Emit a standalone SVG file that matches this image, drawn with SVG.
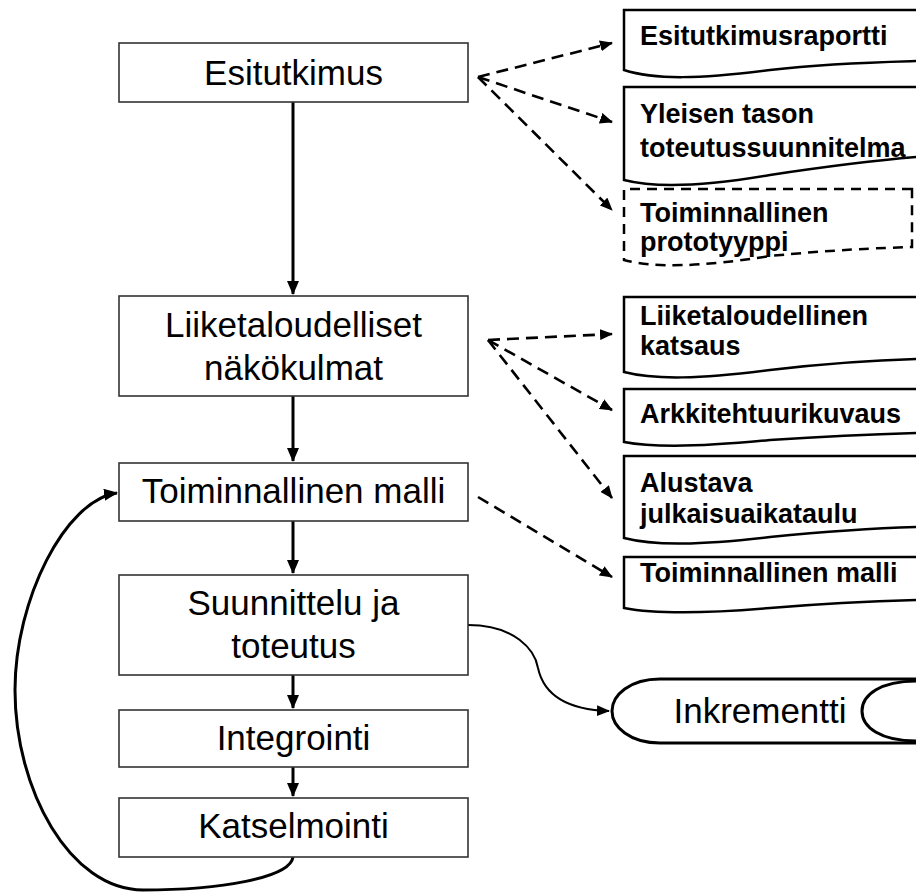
<svg xmlns="http://www.w3.org/2000/svg" width="916" height="892" viewBox="0 0 916 892">
<style>
.box{fill:#fff;stroke:#333;stroke-width:1.6}
.doc{fill:#fff;stroke:#000;stroke-width:2.5}
.ddoc{fill:#fff;stroke:#000;stroke-width:2.5;stroke-dasharray:10 7}
.lt{font-family:"Liberation Sans",Arial,sans-serif;font-size:35px;fill:#000;text-anchor:middle}
.rt{font-family:"Liberation Sans",Arial,sans-serif;font-size:27px;font-weight:bold;fill:#000}
.solid{fill:none;stroke:#000;stroke-width:3}
.dash{fill:none;stroke:#000;stroke-width:2.6;stroke-dasharray:12 7}
</style>
<defs>
<marker id="ah" markerUnits="userSpaceOnUse" markerWidth="14" markerHeight="12" refX="13" refY="6" orient="auto">
<path d="M0,0 L14,6 L0,12 z" fill="#000"/>
</marker>
<marker id="ahs" markerUnits="userSpaceOnUse" markerWidth="13" markerHeight="11" refX="12" refY="5.5" orient="auto">
<path d="M0,0 L13,5.5 L0,11 z" fill="#000"/>
</marker>
</defs>
<rect width="916" height="892" fill="#fff"/>
<g id="connectors">
<path class="solid" d="M293,102 V294" marker-end="url(#ah)"/>
<path class="solid" d="M293,396 V461" marker-end="url(#ah)"/>
<path class="solid" d="M293,521 V573" marker-end="url(#ah)"/>
<path class="solid" d="M293,675 V708" marker-end="url(#ah)"/>
<path class="solid" d="M293,767 V796" marker-end="url(#ah)"/>
<path class="solid" d="M293,857 C290,878 220,890 143,890 C70,890 15,790 15,690 C15,600 65,500 117,493" marker-end="url(#ah)"/>
<path fill="none" stroke="#000" stroke-width="2" d="M468,625 C515,625 535,650 538,668 C545,700 575,710 609,711" marker-end="url(#ahs)"/>
<path class="dash" d="M478,77 L612,43" marker-end="url(#ahs)"/>
<path class="dash" d="M478,77 L612,122" marker-end="url(#ahs)"/>
<path class="dash" d="M478,77 L612,210" marker-end="url(#ahs)"/>
<path class="dash" d="M488,340 L612,334" marker-end="url(#ahs)"/>
<path class="dash" d="M488,340 L612,410" marker-end="url(#ahs)"/>
<path class="dash" d="M488,340 L612,498" marker-end="url(#ahs)"/>
<path class="dash" d="M478,497 L612,577" marker-end="url(#ahs)"/>
</g>
<g id="n-esitutkimus"><rect class="box" x="119" y="43" width="349" height="59"/><text class="lt" x="293.5" y="85">Esitutkimus</text></g>
<g id="n-liiketaloudelliset"><rect class="box" x="119" y="296" width="349" height="100"/><text class="lt" x="293.5" y="337">Liiketaloudelliset</text><text class="lt" x="293.5" y="380">näkökulmat</text></g>
<g id="n-toiminnallinen"><rect class="box" x="119" y="463" width="349" height="58"/><text class="lt" x="293.5" y="503">Toiminnallinen malli</text></g>
<g id="n-suunnittelu"><rect class="box" x="119" y="575" width="349" height="100"/><text class="lt" x="293.5" y="615">Suunnittelu ja</text><text class="lt" x="293.5" y="658">toteutus</text></g>
<g id="n-integrointi"><rect class="box" x="119" y="710" width="349" height="57"/><text class="lt" x="293.5" y="750">Integrointi</text></g>
<g id="n-katselmointi"><rect class="box" x="119" y="798" width="349" height="59"/><text class="lt" x="293.5" y="838">Katselmointi</text></g>
<g id="d-esitutkimusraportti"><path class="doc" d="M917,10 H624 V70 C655,80 700,79 770,70 C830,63 880,62 917,61"/><text class="rt" x="640" y="45">Esitutkimusraportti</text></g>
<g id="d-yleisen"><path class="doc" d="M917,87 H624 V180 C655,188 700,187 770,175 C830,166 880,160 917,157"/><text class="rt" x="640" y="123">Yleisen tason</text><text class="rt" x="640" y="157">toteutussuunnitelma</text></g>
<g id="d-prototyyppi"><path class="ddoc" d="M912,189 H624 V260 C655,268 700,267 770,256 C830,250 880,248 912,247 Z"/><text class="rt" x="640" y="222">Toiminnallinen</text><text class="rt" x="640" y="251">prototyyppi</text></g>
<g id="d-katsaus"><path class="doc" d="M917,297 H624 V372 C655,380 700,379 770,370 C830,363 880,360 917,359"/><text class="rt" x="640" y="325">Liiketaloudellinen</text><text class="rt" x="640" y="355">katsaus</text></g>
<g id="d-arkkitehtuuri"><path class="doc" d="M917,389 H624 V442 C655,448 700,447 770,440 C830,436 880,434 917,433"/><text class="rt" x="640" y="423">Arkkitehtuurikuvaus</text></g>
<g id="d-alustava"><path class="doc" d="M917,456 H624 V538 C655,546 700,545 770,537 C830,531 880,528 917,527"/><text class="rt" x="640" y="492">Alustava</text><text class="rt" x="640" y="523">julkaisuaikataulu</text></g>
<g id="d-malli"><path class="doc" d="M917,557 H624 V608 C655,614 700,614 770,608 C830,603 880,601 917,600"/><text class="rt" x="640" y="582">Toiminnallinen malli</text></g>
<g id="n-inkrementti">
<path fill="#fff" stroke="#000" stroke-width="3" d="M917,679 H660 C630,679 612,695 612,711 C612,727 630,743 660,743 H917"/>
<path fill="none" stroke="#000" stroke-width="3" d="M917,681 C880,681 862,695 862,711 C862,727 880,741 917,741"/>
<text class="lt" x="760" y="723">Inkrementti</text>
</g>
</svg>
